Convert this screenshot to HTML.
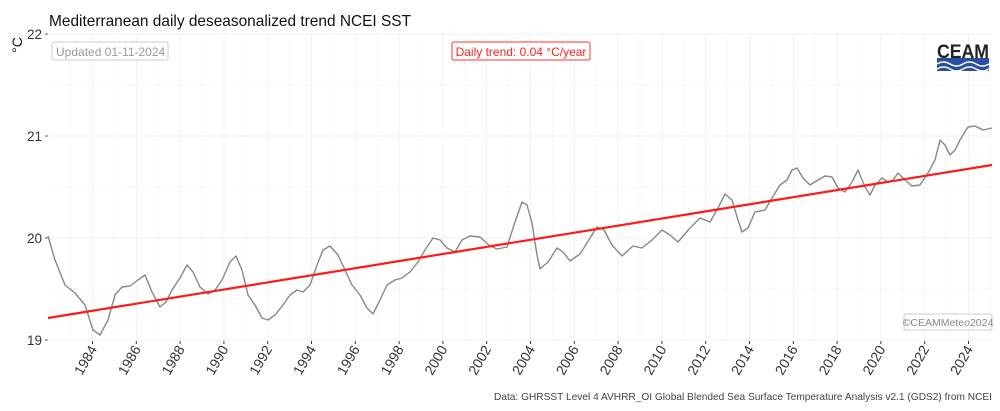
<!DOCTYPE html>
<html><head><meta charset="utf-8"><style>
body{margin:0;background:#fff;width:1000px;height:411px;overflow:hidden}
svg{display:block;font-family:"Liberation Sans",sans-serif}
</style></head><body>
<svg width="1000" height="411" viewBox="0 0 1000 411">
<text x="49" y="26" font-size="16" fill="#111" textLength="362" lengthAdjust="spacingAndGlyphs">Mediterranean daily deseasonalized trend NCEI SST</text>
<g stroke="#ebebeb" stroke-width="0.8">
<line x1="49" y1="34" x2="992" y2="34"/><line x1="49" y1="136" x2="992" y2="136"/><line x1="49" y1="238" x2="992" y2="238"/><line x1="49" y1="340" x2="992" y2="340"/>
<line x1="49" y1="85" x2="992" y2="85" stroke="#f5f5f5"/><line x1="49" y1="187" x2="992" y2="187" stroke="#f5f5f5"/><line x1="49" y1="289" x2="992" y2="289" stroke="#f5f5f5"/>
</g>
<g stroke="#efefef" stroke-width="0.8" id="vg"></g>
<g font-size="13.5" fill="#333" text-anchor="end">
<text x="42" y="39">22</text><text x="42" y="141">21</text><text x="42" y="243">20</text><text x="42" y="345">19</text>
</g>
<g stroke="#333" stroke-width="0.8"><line x1="45" y1="34" x2="48" y2="34"/><line x1="45" y1="136" x2="48" y2="136"/><line x1="45" y1="238" x2="48" y2="238"/><line x1="45" y1="340" x2="48" y2="340"/></g>
<text transform="translate(22,45) rotate(-90)" font-size="14" fill="#111" text-anchor="middle">°C</text>
<g id="xl" font-size="14" fill="#333"></g>
<polyline fill="none" stroke="#888" stroke-width="1.4" stroke-linejoin="round" points="48,236 55,260 65,285 75,293 85,305 93,330 100,335 108,320 115,295 122,287 130,286 138,280 145,275 152,292 160,307 166,302 172,290 180,278 187,265 193,272 200,287 208,294 215,290 222,280 230,262 236,256 242,270 248,295 255,305 262,318 268,320 275,315 283,305 290,295 297,290 303,292 310,285 317,265 323,250 330,246 338,255 345,270 352,285 360,295 367,308 373,314 380,300 387,285 395,280 402,278 410,272 418,262 425,250 433,238 440,240 447,248 455,252 462,240 470,236 480,237 490,246 497,249 507,247 514,225 522,202 527,205 532,223 537,255 540,269 548,262 557,248 563,252 570,261 580,254 590,238 597,227 604,230 612,245 622,256 633,246 642,248 652,240 662,230 670,235 678,242 690,228 700,218 710,222 718,208 725,194 732,200 738,220 742,232 748,228 755,212 765,210 772,198 780,185 787,180 792,170 797,168 803,178 810,185 818,180 825,176 832,177 838,188 845,192 852,182 858,170 865,187 870,195 875,185 882,178 888,182 893,180 898,173 905,180 912,186 920,185 928,173 935,160 940,140 945,145 950,155 955,150 960,140 968,127 975,126 983,130 992,128"/>
<line x1="48" y1="318" x2="992" y2="165" stroke="#ff1a1a" stroke-width="2.2"/>
<rect x="52" y="42" width="116" height="18" rx="2" fill="#fff" stroke="#ccc"/>
<text x="56" y="56" font-size="12" fill="#999">Updated 01-11-2024</text>
<rect x="452" y="42" width="138" height="18" rx="2" fill="#fff" stroke="#ff3030"/>
<text x="521" y="56" font-size="12" fill="#ff2020" text-anchor="middle">Daily trend: 0.04 °C/year</text>
<rect x="904" y="314" width="88" height="16" rx="2" fill="#fff" stroke="#ccc"/>
<text x="948" y="326" font-size="10.5" fill="#888" text-anchor="middle">©CEAMMeteo2024</text>
<text x="937" y="58" font-size="19" font-weight="bold" fill="#222" textLength="52" lengthAdjust="spacingAndGlyphs">CEAM</text>
<rect x="937" y="58" width="52" height="13" fill="#2a4ea0"/>
<path d="M937,64 q6.5,-4 13,0 t13,0 t13,0 t13,0" fill="none" stroke="#fff" stroke-width="1.6"/>
<path d="M937,69 q6.5,-4 13,0 t13,0 t13,0 t13,0" fill="none" stroke="#fff" stroke-width="1.6"/>
<text x="992" y="400" font-size="10.2" fill="#444" text-anchor="end" textLength="498" lengthAdjust="spacingAndGlyphs">Data: GHRSST Level 4 AVHRR_OI Global Blended Sea Surface Temperature Analysis v2.1 (GDS2) from NCEI</text>
</svg>
<script>
var vg=document.getElementById('vg'),xl=document.getElementById('xl'),ns='http://www.w3.org/2000/svg';
for(var y=1982;y<=2025;y++){var x=92.5+(y-1984)*21.9;if(x<49||x>992)continue;
var l=document.createElementNS(ns,'line');l.setAttribute('x1',x);l.setAttribute('x2',x);l.setAttribute('y1',34);l.setAttribute('y2',340);if(y%2==1)l.setAttribute('stroke','#f6f6f6');vg.appendChild(l);
if(y%2==0&&y>=1984){var t=document.createElementNS(ns,'line');t.setAttribute('x1',x);t.setAttribute('x2',x);t.setAttribute('y1',341);t.setAttribute('y2',344);t.setAttribute('stroke','#333');xl.appendChild(t);
var tx=document.createElementNS(ns,'text');tx.setAttribute('transform','translate('+(x+5)+',349) rotate(-60)');tx.setAttribute('text-anchor','end');tx.textContent=y;xl.appendChild(tx);}}
</script>
</body></html>
